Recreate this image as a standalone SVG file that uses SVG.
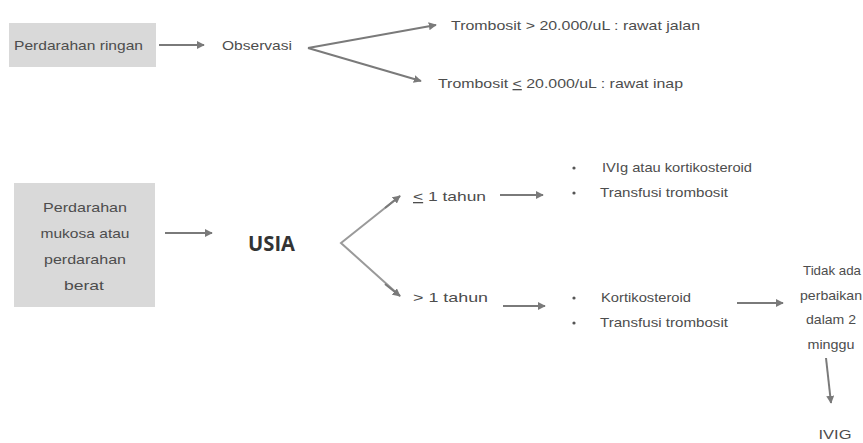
<svg xmlns="http://www.w3.org/2000/svg" width="863" height="443" viewBox="0 0 863 443">
<defs>
<marker id="ah" viewBox="0 0 10 10" refX="9" refY="5" markerWidth="4" markerHeight="4" orient="auto" markerUnits="strokeWidth">
<path d="M0,0 L10,5 L0,10 Z" fill="#7a7a7a"/>
</marker>
<style>
.t{font-family:"Liberation Sans",Arial,sans-serif;font-size:13px;fill:#4d4d4d}
.c{text-anchor:middle}
.b{font-family:"Open Sans","Liberation Sans",sans-serif;font-size:21px;font-weight:bold;fill:#333}
.box{fill:#d9d9d9}
.ln{stroke:#7a7a7a;stroke-width:2;fill:none;marker-end:url(#ah)}
.ln2{stroke:#9a9a9a;stroke-width:2;fill:none}
.dot{fill:#555}
</style>
</defs>
<rect width="863" height="443" fill="#fff"/>
<g id="ringan">
<rect class="box" x="9" y="23" width="147" height="44"/>
<text class="t" x="14" y="50" textLength="129" lengthAdjust="spacingAndGlyphs">Perdarahan ringan</text>
</g>
<g id="observasi"><text class="t" x="222" y="50" textLength="70" lengthAdjust="spacingAndGlyphs">Observasi</text></g>
<g id="jalan"><text class="t" x="451" y="30" textLength="249" lengthAdjust="spacingAndGlyphs">Trombosit &gt; 20.000/uL : rawat jalan</text></g>
<g id="inap"><text class="t" x="438" y="88" textLength="245" lengthAdjust="spacingAndGlyphs">Trombosit <tspan text-decoration="underline">&lt;</tspan> 20.000/uL : rawat inap</text></g>
<g id="berat">
<rect class="box" x="14" y="183" width="141" height="124"/>
<text class="t c" x="85" y="212" textLength="84" lengthAdjust="spacingAndGlyphs">Perdarahan</text>
<text class="t c" x="85" y="238" textLength="89" lengthAdjust="spacingAndGlyphs">mukosa atau</text>
<text class="t c" x="85" y="264" textLength="82" lengthAdjust="spacingAndGlyphs">perdarahan</text>
<text class="t c" x="84" y="290" textLength="40" lengthAdjust="spacingAndGlyphs">berat</text>
</g>
<g id="usia"><text class="b" x="248" y="251" textLength="47" lengthAdjust="spacingAndGlyphs">USIA</text></g>
<g id="le1"><text class="t" x="413" y="201" textLength="73" lengthAdjust="spacingAndGlyphs"><tspan text-decoration="underline">&lt;</tspan> 1 tahun</text></g>
<g id="gt1"><text class="t" x="413" y="302" textLength="75" lengthAdjust="spacingAndGlyphs">&gt; 1 tahun</text></g>
<g id="terapi1">
<circle class="dot" cx="574" cy="168" r="1.6"/>
<circle class="dot" cx="574" cy="193" r="1.6"/>
<text class="t" x="602" y="172" textLength="150" lengthAdjust="spacingAndGlyphs">IVIg atau kortikosteroid</text>
<text class="t" x="600" y="197" textLength="128" lengthAdjust="spacingAndGlyphs">Transfusi trombosit</text>
</g>
<g id="terapi2">
<circle class="dot" cx="574" cy="298" r="1.6"/>
<circle class="dot" cx="574" cy="323" r="1.6"/>
<text class="t" x="601" y="302" textLength="90" lengthAdjust="spacingAndGlyphs">Kortikosteroid</text>
<text class="t" x="600" y="327" textLength="128" lengthAdjust="spacingAndGlyphs">Transfusi trombosit</text>
</g>
<g id="tidak">
<text class="t c" x="832" y="275" textLength="58" lengthAdjust="spacingAndGlyphs">Tidak ada</text>
<text class="t c" x="831" y="300" textLength="62" lengthAdjust="spacingAndGlyphs">perbaikan</text>
<text class="t c" x="831" y="324" textLength="50" lengthAdjust="spacingAndGlyphs">dalam 2</text>
<text class="t c" x="831" y="349" textLength="47" lengthAdjust="spacingAndGlyphs">minggu</text>
</g>
<g id="ivig"><text class="t c" x="835" y="439" textLength="33" lengthAdjust="spacingAndGlyphs">IVIG</text></g>
<g id="connectors">
<line class="ln" x1="159" y1="45" x2="204" y2="45"/>
<line class="ln" x1="308" y1="48" x2="436" y2="25"/>
<line class="ln" x1="308" y1="48" x2="421" y2="81"/>
<line class="ln" x1="165" y1="233" x2="212" y2="233"/>
<polyline class="ln2" points="400,196 341,243 400,296"/>
<path class="ln" d="M385,208 L400,196"/>
<path class="ln" d="M385,284 L400,296"/>
<line class="ln" x1="500" y1="195" x2="543" y2="195"/>
<line class="ln" x1="503" y1="306" x2="545" y2="306"/>
<line class="ln" x1="737" y1="303" x2="783" y2="303"/>
<line class="ln" x1="826" y1="358" x2="831" y2="403"/>
</g>
</svg>
